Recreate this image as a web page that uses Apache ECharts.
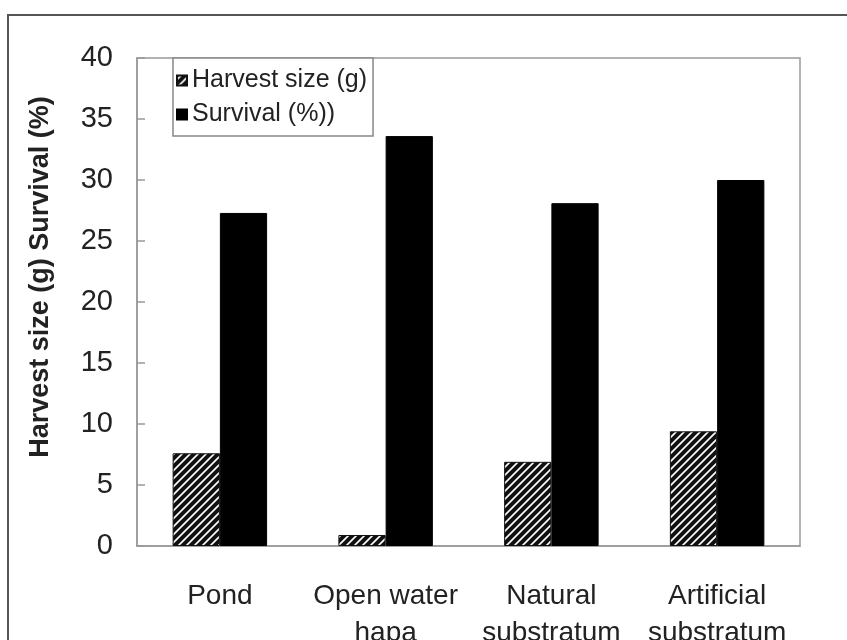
<!DOCTYPE html>
<html>
<head>
<meta charset="utf-8">
<script src="https://cdn.jsdelivr.net/npm/echarts@6/dist/echarts.min.js"></script>
<style>
  html, body { margin: 0; padding: 0; background: #fff; }
  #chart { width: 847px; height: 640px; }
</style>
</head>
<body>
<div id="chart"></div>
<script>
  // data
  var categories = ['Pond', 'Open water\nhapa', 'Natural\nsubstratum', 'Artificial\nsubstratum'];
  var harvestSize = [7.6, 0.9, 6.9, 9.4];
  var survival = [27.3, 33.6, 28.1, 30.0];
  var yTicks = { min: 0, max: 40, interval: 5 };

  // hatch pattern for the harvest size bars
  function makeHatch() {
    var c = document.createElement('canvas');
    c.width = 8; c.height = 8;
    var ctx = c.getContext('2d');
    ctx.fillStyle = '#fff';
    ctx.fillRect(0, 0, 8, 8);
    ctx.strokeStyle = '#111';
    ctx.lineWidth = 4;
    ctx.beginPath();
    ctx.moveTo(-2, 10); ctx.lineTo(10, -2);
    ctx.moveTo(-6, 6); ctx.lineTo(6, -6);
    ctx.moveTo(2, 14); ctx.lineTo(14, 2);
    ctx.stroke();
    return c;
  }
  var hatch = { image: makeHatch(), repeat: 'repeat' };

  var myChart = echarts.init(document.getElementById('chart'));
  var font = 'Liberation Sans, Arial, sans-serif';

  var options = {
    backgroundColor: '#fff',
    animation: false,
    textStyle: { fontFamily: font },
    graphic: [{
      type: 'rect',
      shape: { x: 8, y: 15, width: 900, height: 700 },
      style: { fill: 'none', stroke: '#555', lineWidth: 2 },
      silent: true
    }],
    grid: {
      left: 137, right: 47, top: 58, bottom: 94,
      outerBoundsMode: 'none',
      containLabel: false,
      show: true, borderColor: '#999', borderWidth: 1.5
    },
    legend: {
      orient: 'vertical',
      left: 173, top: 58,
      itemWidth: 10, itemHeight: 10,
      itemGap: 9,
      padding: [10, 6, 9, 3],
      borderColor: '#888', borderWidth: 1.5,
      backgroundColor: '#fff',
      textStyle: { fontSize: 25, color: '#222', fontFamily: font },
      data: [
        { name: 'Harvest size (g)', icon: 'rect' },
        { name: 'Survival (%))', icon: 'rect' }
      ]
    },
    xAxis: {
      type: 'category',
      data: categories,
      axisLine: { lineStyle: { color: '#999', width: 1.5 } },
      axisTick: { show: false },
      axisLabel: {
        interval: 0, margin: 32, fontSize: 28, lineHeight: 37,
        color: '#222', fontFamily: font
      }
    },
    yAxis: {
      type: 'value',
      min: yTicks.min, max: yTicks.max, interval: yTicks.interval,
      name: 'Harvest size (g) Survival (%)',
      nameLocation: 'middle',
      nameGap: 83,
      nameTextStyle: {
        fontSize: 27, fontWeight: 'bold', color: '#222', fontFamily: font,
        padding: [0, 0, 0, 50]
      },
      axisLine: { show: true, lineStyle: { color: '#999', width: 1.5 } },
      axisTick: { show: true, inside: true, length: 8, lineStyle: { color: '#999', width: 1.5 } },
      splitLine: { show: false },
      axisLabel: { fontSize: 29, margin: 24, color: '#222', fontFamily: font }
    },
    series: [{
      name: 'Harvest size (g)',
      type: 'bar',
      data: harvestSize,
      barGap: '0%',
      barCategoryGap: '43%',
      itemStyle: { color: hatch, borderColor: '#111', borderWidth: 1 }
    }, {
      name: 'Survival (%))',
      type: 'bar',
      data: survival,
      itemStyle: { color: '#000', borderColor: '#000', borderWidth: 1 }
    }]
  };

  myChart.setOption(options);
</script>
</body>
</html>
